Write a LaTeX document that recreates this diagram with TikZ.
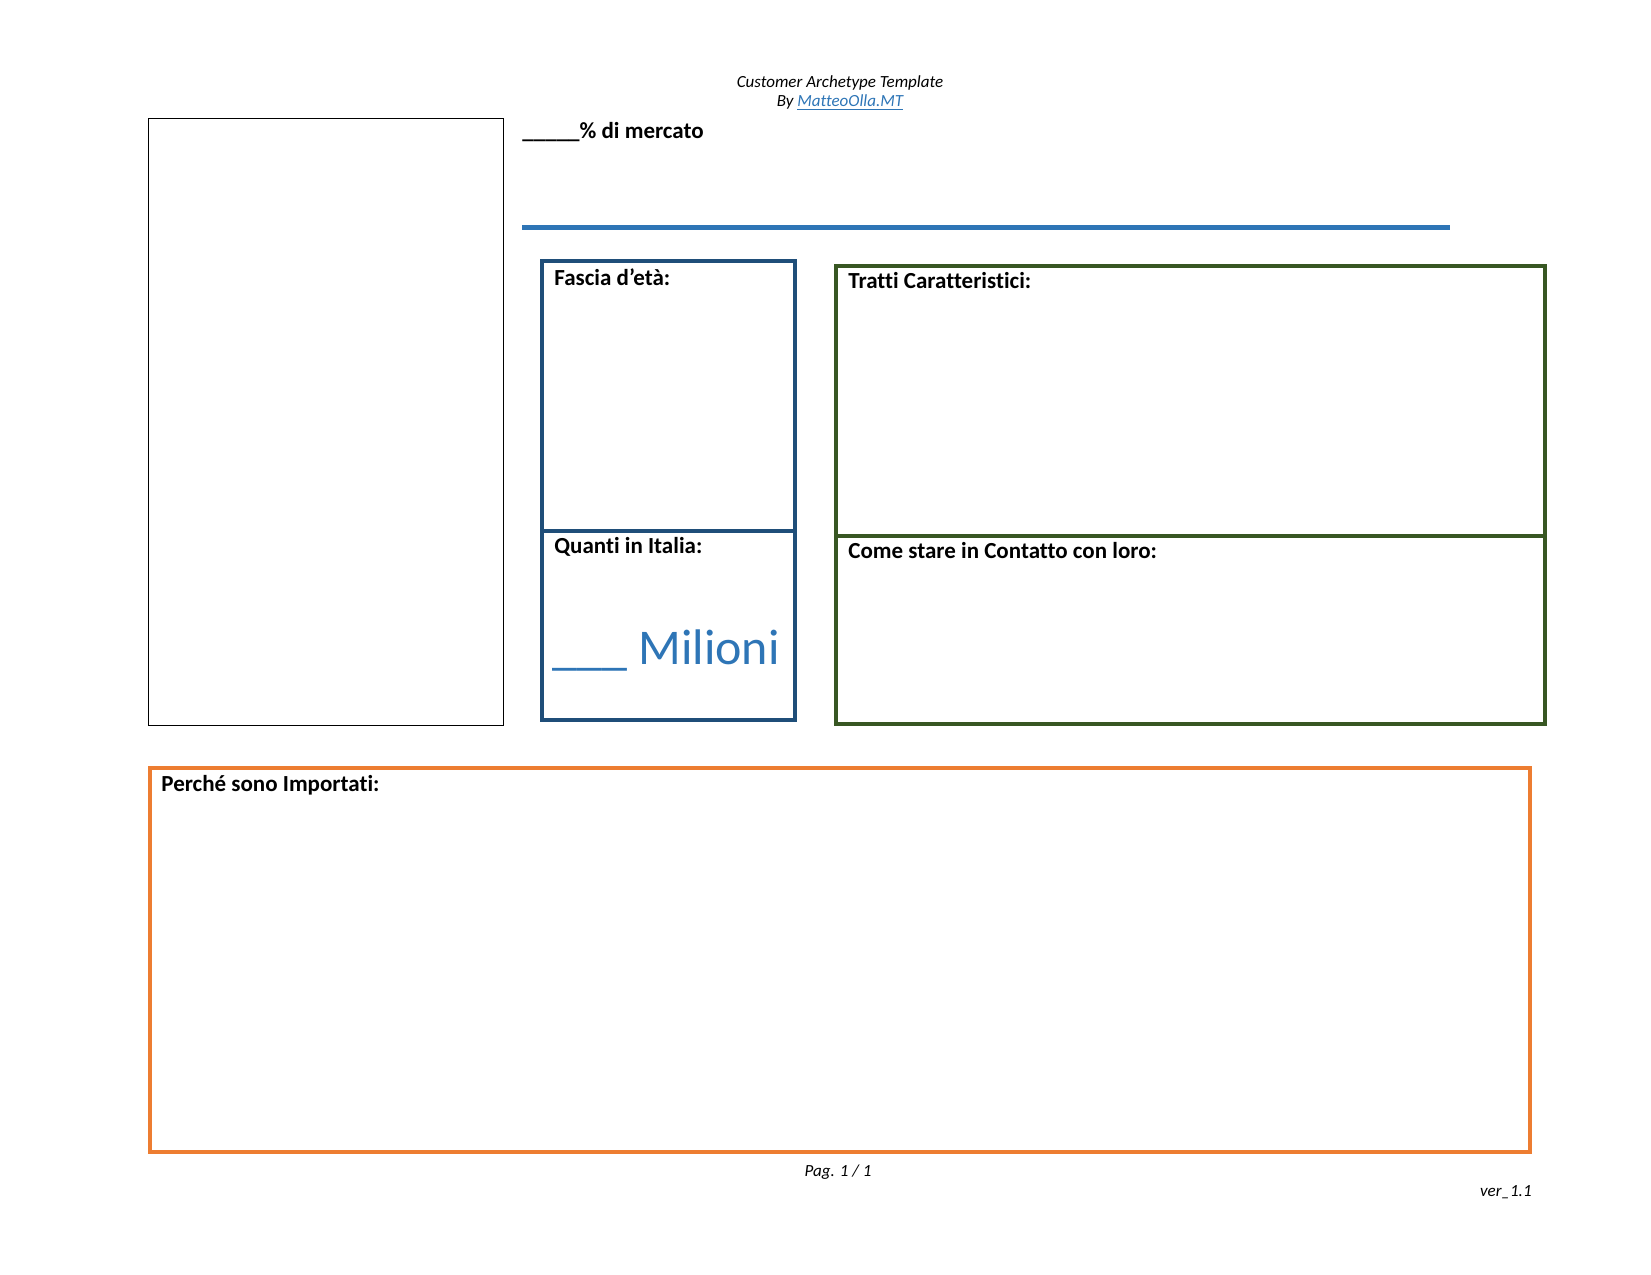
\documentclass[tikz,border=0pt]{standalone}
\usepackage{fontspec}
\setmainfont{Carlito}[Ligatures=NoCommon]
\definecolor{lblue}{RGB}{46,117,182}
\definecolor{dblue}{RGB}{31,78,121}
\definecolor{dgreen}{RGB}{56,87,35}
\definecolor{orng}{RGB}{237,125,49}
\tikzset{lbl/.style={anchor=north west,font=\fontsize{11.5}{13}\selectfont\bfseries,inner sep=0pt},
small/.style={font=\fontsize{8.5}{10}\selectfont\itshape,inner sep=0pt}}
\begin{document}
\begin{tikzpicture}[x=0.5pt,y=-0.5pt]
\useasboundingbox (0,0) rectangle (1651,1275);
\node[small] (t1) at (840,83) {Customer Archetype Template};
\node[small] (t2) at (840,103) {By \textcolor{lblue}{\underline{MatteoOlla.MT}}};
\draw[line width=0.4pt] (148,118) rectangle (503,725);
\node[lbl] (pm) at (522,122) {\_\_\_\_\_\% di mercato};
\draw[lblue,line width=2.5pt] (522,227) -- (1450,227);
\draw[dblue,line width=2pt] (542,261) rectangle (795,720) (542,531) -- (795,531);
\node[lbl] (fa) at (554,268) {Fascia d’età:};
\node[lbl] (qi) at (554,537) {Quanti in Italia:};
\node[anchor=west,inner sep=0pt,text=lblue,font=\fontsize{25}{28}\selectfont] (mi) at (552,650) {\_\_\_ Milioni};
\draw[dgreen,line width=2pt] (836,266) rectangle (1545,724) (836,536) -- (1545,536);
\node[lbl] (tc) at (848,272) {Tratti Caratteristici:};
\node[lbl] (cs) at (848,542) {Come stare in Contatto con loro:};
\draw[orng,line width=2pt] (150,768) rectangle (1530,1152);
\node[lbl] (pi) at (161,775) {Perché sono Importati:};
\node[small] (pg) at (838,1172) {Pag. 1 / 1};
\node[small,anchor=east] (ver) at (1532,1192) {ver\_1.1};
\end{tikzpicture}
\end{document}
